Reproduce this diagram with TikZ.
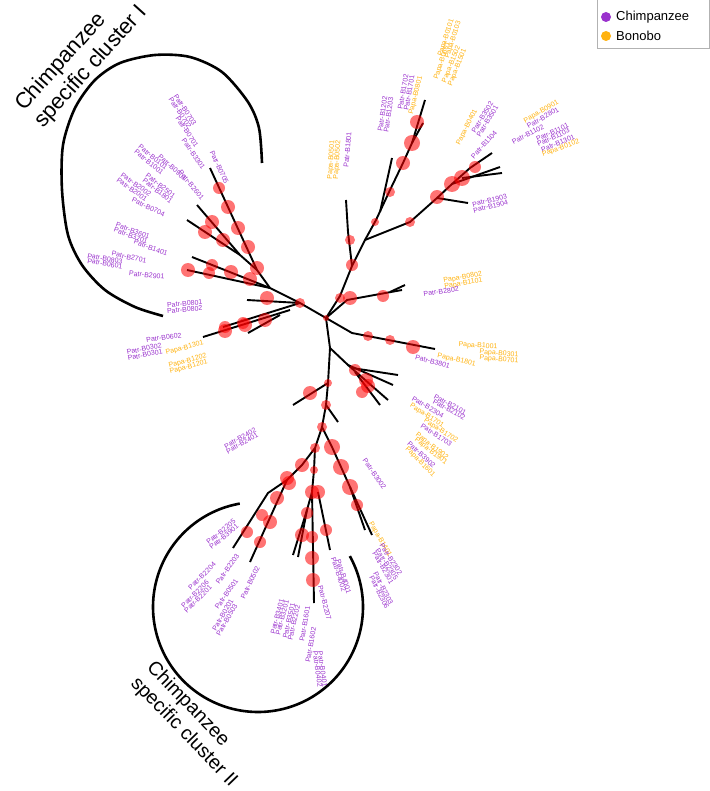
\documentclass[tikz,border=0pt]{standalone}
\usepackage{fontspec}
\setmainfont{Liberation Sans}
\definecolor{chimp}{HTML}{9A32CD}
\definecolor{bono}{HTML}{FFB20F}
\newcounter{lb}
\newcommand\LR[5]{\stepcounter{lb}\node[lab,text=#4,anchor=west,rotate=#3] (t\arabic{lb}) at (#1,#2) {#5};}
\newcommand\LL[5]{\stepcounter{lb}\node[lab,text=#4,anchor=east,rotate=#3] (t\arabic{lb}) at (#1,#2) {#5};}
\newcommand\C[3]{\fill[nd] (#1,#2) circle (#3);}
\begin{document}
\begin{tikzpicture}[x=1pt,y=-1pt,
  lab/.style={font=\fontsize{7}{7}\selectfont,inner sep=0.4pt},
  br/.style={line width=1.9pt,black},
  nd/.style={red,fill opacity=0.55},
  arcline/.style={line width=2.6pt,black},
  big/.style={font=\fontsize{22}{25}\selectfont,anchor=base west,inner sep=0pt},
  bigb/.style={font=\fontsize{19.5}{22}\selectfont,anchor=base west,inner sep=0pt}]
\useasboundingbox (0,0) rectangle (709,791);
% ---------------- tree ----------------
% upper clade
\draw[br] (326,318) -- (340,296) -- (352,266) -- (365,240) -- (376,220) -- (390,190) -- (403,163) -- (412,143) -- (425,100);
\draw[br] (412,143) -- (423,123);
\draw[br] (380,212) -- (392,158);
\draw[br] (352,266) -- (348,232) -- (346,200);
% upper right clade
\draw[br] (365,240) -- (410,222) -- (437,198) -- (452,184) -- (470,168) -- (492,153);
\draw[br] (452,184) -- (500,167);
\draw[br] (462,178) -- (502,173);
\draw[br] (437,198) -- (468,203);
% right
\draw[br] (326,318) -- (347,300) -- (402,290);
\draw[br] (390,292) -- (405,285);
\draw[br] (326,318) -- (352,333) -- (435,349);
% trunk
\draw[br] (326,318) -- (330,348) -- (328,383) -- (326,405) -- (322,427);
\draw[br] (330,348) -- (348,365) -- (393,385);
\draw[br] (348,365) -- (388,400);
\draw[br] (355,372) -- (380,405);
\draw[br] (352,368) -- (398,375);
\draw[br] (328,383) -- (293,405);
\draw[br] (326,405) -- (338,422);
% lower left
\draw[br] (322,427) -- (315,448) -- (302,465) -- (287,480) -- (268,493) -- (233,548);
\draw[br] (287,480) -- (250,562);
% lower middle
\draw[br] (315,448) -- (314,470) -- (312,492) -- (307,510) -- (293,555);
\draw[br] (307,510) -- (298,557);
\draw[br] (312,492) -- (314,603);
\draw[br] (318,492) -- (330,550);
% lower right
\draw[br] (322,427) -- (332,447) -- (341,467) -- (350,487) -- (357,507) -- (365,530);
\draw[br] (350,487) -- (372,535);
% cluster I clade
\draw[br] (326,318) -- (300,303) -- (270,288) -- (257,270) -- (210,168);
\draw[br] (240,255) -- (197,205);
\draw[br] (240,255) -- (187,220);
\draw[br] (257,270) -- (240,255);
\draw[br] (270,288) -- (192,257);
\draw[br] (270,288) -- (187,270);
\draw[br] (300,303) -- (247,300);
\draw[br] (300,303) -- (223,327);
\draw[br] (290,310) -- (203,337);
\draw[br] (280,315) -- (248,333);
% nodes
\C{340}{298}{5}\C{352}{265}{6}\C{375}{222}{4}\C{390}{192}{5}\C{403}{163}{7}\C{412}{143}{8}\C{417}{122}{7}\C{350}{240}{5}
\C{410}{222}{5}\C{437}{197}{7}\C{452}{184}{8}\C{462}{178}{8}\C{475}{167}{6}
\C{350}{298}{7}\C{383}{296}{6}\C{368}{336}{5}\C{390}{340}{5}\C{413}{347}{7}
\C{326}{318}{3}\C{355}{370}{6}\C{366}{380}{7}\C{368}{386}{7}\C{362}{392}{6}
\C{328}{383}{4}\C{310}{393}{7}\C{326}{405}{5}\C{322}{427}{5}
\C{315}{448}{5}\C{302}{465}{7}\C{287}{478}{7}\C{289}{483}{7}\C{277}{498}{7}\C{270}{522}{7}\C{260}{542}{6}\C{262}{515}{6}\C{247}{532}{6}
\C{314}{470}{4}\C{312}{492}{7}\C{318}{492}{7}\C{307}{513}{6}\C{302}{535}{7}\C{312}{537}{6}\C{312}{558}{7}\C{313}{580}{7}\C{326}{530}{6}
\C{332}{447}{8}\C{341}{467}{8}\C{350}{487}{8}\C{357}{505}{6}
\C{219}{188}{6}\C{228}{207}{7}\C{238}{228}{7}\C{248}{247}{7}\C{257}{268}{7}
\C{212}{222}{7}\C{205}{232}{7}\C{223}{240}{7}\C{212}{265}{6}\C{231}{272}{7}\C{250}{279}{7}\C{188}{270}{7}\C{209}{273}{6}
\C{267}{298}{7}\C{225}{327}{6}\C{243}{323}{6}\C{265}{320}{7}\C{225}{331}{7}\C{245}{325}{7}\C{300}{303}{5}
% ---------------- arcs ----------------
\draw[arcline] plot[smooth] coordinates {(262,163) (259,128) (248,102) (222,72) (190,57) (155,55) (120,63) (95,80) (75,108) (63,145) (62,190) (68,235) (82,265) (105,290) (135,307) (163,316)};
\draw[arcline] plot[domain=-29:260,samples=90,smooth] ({258+105*cos(\x)},{607+105*sin(\x)});
% ---------------- labels ----------------
\LR{440}{57}{72}{bono}{Papa-B0101}
\LR{447}{59}{72}{bono}{Papa-B0103}
\LR{436}{80}{72}{bono}{Papa-B0601}
\LR{444}{83}{68}{bono}{Papa-B1502}
\LR{450}{86}{68}{bono}{Papa-B1501}
\LR{400}{110}{80}{chimp}{Patr-B1702}
\LR{406}{111}{80}{chimp}{Patr-B1701}
\LR{411}{115}{76}{bono}{Papa-B0801}
\LR{380}{132}{82}{chimp}{Patr-B1202}
\LR{386}{133}{82}{chimp}{Patr-B1203}
\LR{458}{145}{63}{bono}{Papa-B0401}
\LR{473}{133}{59}{chimp}{Patr-B3502}
\LR{478}{137}{59}{chimp}{Patr-B3501}
\LR{472}{158}{48}{chimp}{Patr-B1104}
\LR{524}{122}{30}{bono}{Papa-B0901}
\LR{527}{127}{30}{chimp}{Patr-B2801}
\LR{512}{143}{28}{chimp}{Patr-B1102}
\LR{536}{140}{25}{chimp}{Patr-B1101}
\LR{537}{145}{25}{chimp}{Patr-B1103}
\LR{541}{150}{22}{chimp}{Patr-B1301}
\LR{542}{155}{20}{bono}{Papa-B0102}
\LR{472}{205}{15}{chimp}{Patr-B1903}
\LR{473}{211}{15}{chimp}{Patr-B1904}
\LR{330}{180}{86}{bono}{Papa-B0501}
\LR{336}{180}{86}{bono}{Papa-B0502}
\LR{346}{168}{85}{chimp}{Patr-B1801}
\LR{443}{281}{10}{bono}{Papa-B0802}
\LR{444}{287}{10}{bono}{Papa-B1101}
\LR{423}{294}{8}{chimp}{Patr-B2802}
\LR{458}{345}{-3}{bono}{Papa-B1001}
\LR{479}{352}{-5}{bono}{Papa-B0301}
\LR{479}{358}{-5}{bono}{Papa-B0701}
\LR{437}{356}{-12}{bono}{Papa-B1801}
\LR{415}{357}{-15}{chimp}{Patr-B3801}
\LR{434}{396}{-28}{chimp}{Patr-B2101}
\LR{433}{401}{-28}{chimp}{Patr-B2102}
\LR{412}{398}{-30}{chimp}{Patr-B2304}
\LR{410}{405}{-33}{bono}{Papa-B1701}
\LR{424}{420}{-33}{bono}{Papa-B1702}
\LR{421}{425}{-33}{chimp}{Patr-B1703}
\LR{416}{434}{-38}{bono}{Papa-B1902}
\LR{415}{439}{-38}{bono}{Papa-B1901}
\LR{408}{442}{-43}{chimp}{Patr-B3902}
\LR{406}{448}{-45}{bono}{Papa-B1601}
\LR{364}{459}{-55}{chimp}{Patr-B3002}
\LR{370}{522}{-60}{bono}{Papa-B1401}
\LR{381}{544}{-57}{chimp}{Patr-B2302}
\LR{377}{549}{-57}{chimp}{Patr-B2305}
\LR{374}{552}{-60}{chimp}{Patr-B2301}
\LR{375}{572}{-63}{chimp}{Patr-B2303}
\LR{371}{576}{-63}{chimp}{Patr-B2306}
\LR{333}{557}{-72}{chimp}{Patr-B4002}
\LR{338}{559}{-72}{chimp}{Patr-B4001}
\LR{320}{585}{-75}{chimp}{Patr-B2207}
\LR{315}{651}{-82}{chimp}{Patr-B0402}
\LR{320}{651}{-82}{chimp}{Patr-B0401}
\LL{195}{125}{-57}{chimp}{Patr-B0703}
\LL{190}{128}{-57}{chimp}{Patr-B0702}
\LL{197}{147}{-57}{chimp}{Patr-B0701}
\LL{204}{169}{-55}{chimp}{Patr-B3301}
\LL{227}{184}{-65}{chimp}{Patr-B0705}
\LL{167}{169}{-40}{chimp}{Patr-B0101}
\LL{163}{174}{-40}{chimp}{Patr-B1001}
\LL{186}{180}{-42}{chimp}{Patr-B0901}
\LL{203}{199}{-50}{chimp}{Patr-B2601}
\LL{151}{195}{-35}{chimp}{Patr-B2002}
\LL{147}{200}{-35}{chimp}{Patr-B2001}
\LL{175}{197}{-38}{chimp}{Patr-B2501}
\LL{172}{202}{-38}{chimp}{Patr-B1801}
\LL{165}{215}{-25}{chimp}{Patr-B0704}
\LL{150}{237}{-20}{chimp}{Patr-B3601}
\LL{148}{242}{-20}{chimp}{Patr-B3701}
\LL{168}{254}{-20}{chimp}{Patr-B1401}
\LL{147}{261}{-12}{chimp}{Patr-B2701}
\LL{123}{262}{-10}{chimp}{Patr-B0803}
\LL{123}{267}{-10}{chimp}{Patr-B0601}
\LL{165}{277}{-6}{chimp}{Patr-B2901}
\LL{203}{302}{5}{chimp}{Patr-B0801}
\LL{203}{308}{5}{chimp}{Patr-B0802}
\LL{182}{335}{8}{chimp}{Patr-B0602}
\LL{162}{345}{12}{chimp}{Patr-B0302}
\LL{163}{351}{12}{chimp}{Patr-B0301}
\LL{204}{343}{15}{bono}{Papa-B1301}
\LL{207}{356}{15}{bono}{Papa-B1202}
\LL{208}{362}{15}{bono}{Papa-B1201}
\LL{256}{429}{30}{chimp}{Patr-B2402}
\LL{258}{434}{30}{chimp}{Patr-B2401}
\LL{235}{520}{40}{chimp}{Patr-B2205}
\LL{238}{525}{40}{chimp}{Patr-B3901}
\LL{215}{563}{45}{chimp}{Patr-B2204}
\LL{238}{554}{55}{chimp}{Patr-B2203}
\LL{208}{581}{45}{chimp}{Patr-B2206}
\LL{211}{586}{45}{chimp}{Patr-B2201}
\LL{237}{579}{55}{chimp}{Patr-B0501}
\LL{258}{566}{65}{chimp}{Patr-B0502}
\LL{232}{599}{60}{chimp}{Patr-B0201}
\LL{236}{604}{60}{chimp}{Patr-B0503}
\LL{282}{599}{75}{chimp}{Patr-B3401}
\LL{287}{600}{75}{chimp}{Patr-B3201}
\LL{293}{603}{77}{chimp}{Patr-B3501}
\LL{298}{605}{77}{chimp}{Patr-B2202}
\LL{308}{606}{80}{chimp}{Patr-B1601}
\LL{314}{627}{80}{chimp}{Patr-B1602}
% ---------------- cluster titles ----------------
\node[big,rotate=48] (c1a) at (24,112) {Chimpanzee};
\node[big,rotate=48] (c1b) at (43,129) {specific cluster I};
\node[bigb,rotate=-46] (c2a) at (146,668) {Chimpanzee};
\node[bigb,rotate=-46] (c2b) at (130,684) {specific cluster II};
% ---------------- legend ----------------
\draw[gray!60,line width=0.6pt] (597,-1) rectangle (709,48);
\fill[chimp] (606,17) circle (5);
\fill[bono] (606,36) circle (5);
\node[anchor=west,font=\fontsize{13}{13}\selectfont,inner sep=0pt] (l1) at (616,17) {Chimpanzee};
\node[anchor=west,font=\fontsize{13}{13}\selectfont,inner sep=0pt] (l2) at (616,36) {Bonobo};
\end{tikzpicture}
\end{document}
